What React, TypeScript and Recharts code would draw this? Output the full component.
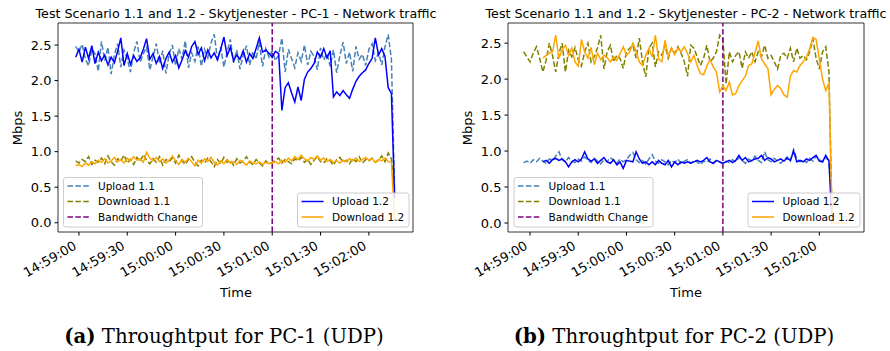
import React from 'react';
import { LineChart, Line, XAxis, YAxis, ReferenceLine, ReferenceArea } from 'recharts';

const FONT = '"DejaVu Sans", sans-serif';
const SERIF = '"DejaVu Serif", serif';

// seconds after 14:59:00
const timesPC1 = [
  -2, 0, 2, 4, 6, 8, 10, 12, 14, 16,
  18, 20, 22, 24, 26, 28, 30, 32, 34, 36,
  38, 40, 42, 44, 46, 48, 50, 52, 54, 56,
  58, 60, 62, 64, 66, 68, 70, 72, 74, 76,
  78, 80, 82, 84, 86, 88, 90, 92, 94, 96,
  98, 100, 102, 104, 106, 108, 110, 112, 114, 116,
  118, 120, 122, 124, 126, 128, 130, 132, 134, 136,
  138, 140, 142, 144, 146, 148, 150, 152, 154, 156,
  158, 160, 162, 164, 166, 168, 170, 172, 174, 176,
  178, 180, 182, 184, 186, 188, 190, 192, 194, 196,
];

const upload11PC1 = [
  2.48, 2.40, 2.51, 2.30, 2.21, 2.44, 2.38, 2.13, 2.55, 2.28,
  2.47, 2.09, 2.36, 2.52, 2.19, 2.43, 2.31, 2.12, 2.40, 2.55,
  2.26, 2.38, 2.47, 2.15, 2.33, 2.52, 2.24, 2.42, 2.10, 2.37,
  2.50, 2.21, 2.45, 2.30, 2.56, 2.18, 2.39, 2.27, 2.48, 2.20,
  2.44, 2.32, 2.53, 2.65, 2.29, 2.47, 2.19, 2.40, 2.58, 2.25,
  2.43, 2.16, 2.36, 2.49, 2.22, 2.41, 2.30, 2.54, 2.20, 2.45,
  2.33, 2.42, 2.28, 2.36, 2.60, 2.12, 2.44, 2.31, 2.18, 2.39,
  2.27, 2.50, 2.22, 2.41, 2.34, 2.15, 2.46, 2.29, 2.38, 2.20,
  2.43, 2.11, 2.35, 2.54, 2.24, 2.40, 2.13, 2.48, 2.30, 2.37,
  2.21, 2.44, 2.52, 2.28, 2.39, 2.22, 2.47, 2.65, 2.30, 0.40,
];

const download11PC1 = [
  0.87, 0.84, 0.89, 0.86, 0.93, 0.82, 0.88, 0.85, 0.91, 0.83,
  0.94, 0.86, 0.81, 0.90, 0.87, 0.95, 0.84, 0.89, 0.82, 0.92,
  0.86, 0.96, 0.88, 0.83, 0.90, 0.85, 0.93, 0.81, 0.89, 0.86,
  0.91, 0.84, 0.95, 0.87, 0.82, 0.89, 0.93, 0.85, 0.80, 0.88,
  0.84, 0.91, 0.86, 0.79, 0.89, 0.83, 0.92, 0.85, 0.88, 0.81,
  0.90, 0.84, 0.87, 0.93, 0.85, 0.82, 0.89, 0.84, 0.80, 0.87,
  0.83, 0.85, 0.88, 0.91, 0.84, 0.89, 0.86, 0.83, 0.90, 0.87,
  0.92, 0.85, 0.89, 0.82, 0.88, 0.93, 0.86, 0.84, 0.90, 0.87,
  0.81, 0.89, 0.92, 0.85, 0.88, 0.83, 0.90, 0.86, 0.93, 0.84,
  0.89, 0.87, 0.91, 0.85, 0.88, 0.94, 0.86, 0.98, 0.90, 0.35,
];

const upload12PC1 = [
  2.33, 2.44, 2.26, 2.47, 2.31, 2.49, 2.24, 2.40, 2.28, 2.36,
  2.22, 2.33, 2.25, 2.41, 2.60, 2.21, 2.38, 2.23, 2.35, 2.27,
  2.32, 2.44, 2.59, 2.30, 2.38, 2.24, 2.34, 2.17, 2.31, 2.40,
  2.26, 2.35, 2.18, 2.29, 2.42, 2.33, 2.48, 2.55, 2.37, 2.46,
  2.28, 2.43, 2.32, 2.39, 2.29, 2.44, 2.61, 2.35, 2.47, 2.28,
  2.36, 2.30, 2.42, 2.26, 2.38, 2.31, 2.45, 2.60, 2.40, 2.43,
  2.38, 2.33, 2.41, 2.38, 1.58, 1.90, 1.97, 1.83, 1.70, 1.91,
  1.72, 2.02, 2.12, 2.17, 2.24, 2.40, 2.33, 2.45, 2.32, 2.42,
  1.77, 1.84, 1.79, 1.86, 1.80, 1.75, 1.88, 1.99, 2.06, 2.11,
  2.15, 2.24, 2.31, 2.60, 2.36, 2.45, 2.34, 1.90, 1.82, 0.35,
];

const download12PC1 = [
  0.80, 0.82, 0.79, 0.84, 0.81, 0.86, 0.83, 0.88, 0.85, 0.90,
  0.84, 0.87, 0.92, 0.86, 0.89, 0.84, 0.91, 0.87, 0.93, 0.88,
  0.90, 0.85, 0.99, 0.91, 0.87, 0.92, 0.86, 0.90, 0.84, 0.88,
  0.94, 0.87, 0.82, 0.89, 0.85, 0.91, 0.86, 0.80, 0.88, 0.84,
  0.90, 0.86, 0.92, 0.85, 0.81, 0.87, 0.83, 0.89, 0.84, 0.86,
  0.82, 0.88, 0.85, 0.81, 0.87, 0.84, 0.83, 0.86, 0.82, 0.85,
  0.83, 0.84, 0.86, 0.83, 0.88, 0.85, 0.91, 0.87, 0.93, 0.89,
  0.95, 0.90, 0.87, 0.92, 0.89, 0.94, 0.88, 0.91, 0.86, 0.89,
  0.85, 0.87, 0.84, 0.88, 0.86, 0.90, 0.87, 0.91, 0.86, 0.89,
  0.92, 0.88, 0.90, 0.85, 0.89, 0.87, 0.91, 0.86, 0.85, 0.02,
];

const timesPC2 = [
  -4, -2, 0, 2, 4, 6, 8, 10, 12, 14,
  16, 18, 20, 22, 24, 26, 28, 30, 32, 34,
  36, 38, 40, 42, 44, 46, 48, 50, 52, 54,
  56, 58, 60, 62, 64, 66, 68, 70, 72, 74,
  76, 78, 80, 82, 84, 86, 88, 90, 92, 94,
  96, 98, 100, 102, 104, 106, 108, 110, 112, 114,
  116, 118, 120, 122, 124, 126, 128, 130, 132, 134,
  136, 138, 140, 142, 144, 146, 148, 150, 152, 154,
  156, 158, 160, 162, 164, 166, 168, 170, 172, 174,
  176, 178, 180, 182, 184, 186, 188, 190, 192, 194,
  196, 198,
];

const upload11PC2 = [
  0.84, 0.86, 0.83, 0.88, 0.85, 0.90, 0.86, 0.83, 0.89, 0.87,
  0.93, 0.99, 0.88, 0.85, 0.91, 0.86, 0.84, 0.89, 0.86, 0.92,
  0.87, 0.84, 0.90, 0.86, 0.82, 0.88, 0.85, 0.91, 0.87, 0.83,
  0.89, 0.85, 0.88, 0.94, 0.98, 0.88, 0.84, 0.87, 0.82, 0.89,
  0.95, 0.86, 0.83, 0.88, 0.85, 0.81, 0.87, 0.84, 0.89, 0.82,
  0.86, 0.88, 0.83, 0.87, 0.85, 0.81, 0.86, 0.84, 0.89, 0.83,
  0.87, 0.85, 0.82, 0.86, 0.84, 0.88, 0.85, 0.91, 0.87, 0.83,
  0.89, 0.86, 0.93, 0.87, 0.84, 0.99, 0.88, 0.85, 0.90, 0.86,
  0.83, 0.88, 0.92, 0.86, 1.02, 0.89, 0.85, 0.88, 0.84, 0.90,
  0.86, 0.93, 0.88, 0.85, 0.90, 0.88, 0.00, null, null, null,
  null, null,
];

const download11PC2 = [
  2.38, 2.31, 2.24, 2.36, 2.45, 2.29, 2.10, 2.26, 2.50, 2.33,
  2.10, 2.36, 2.50, 2.10, 2.40, 2.31, 2.44, 2.27, 2.18, 2.38,
  2.50, 2.24, 2.31, 2.44, 2.61, 2.14, 2.38, 2.47, 2.24, 2.33,
  2.29, 2.15, 2.38, 2.43, 2.47, 2.29, 2.57, 2.24, 2.03, 2.43,
  2.50, 2.17, 2.38, 2.33, 2.47, 2.29, 2.43, 2.36, 2.45, 2.36,
  2.24, 2.04, 2.47, 2.43, 2.31, 2.19, 2.29, 2.47, 2.24, 2.29,
  2.38, 2.61, 2.56, 1.93, 2.38, 2.24, 2.33, 2.38, 2.15, 2.38,
  2.29, 2.38, 2.24, 2.38, 2.31, 2.47, 2.29, 2.33, 2.24, 2.14,
  2.33, 2.36, 2.29, 2.43, 2.24, 2.43, 2.29, 2.33, 2.27, 2.38,
  2.56, 2.29, 2.14, 2.38, 2.45, 2.10, 0.00, null, null, null,
  null, null,
];

const upload12PC2 = [
  null, null, null, null, null, null, 0.85, 0.87, 0.83, 0.88,
  0.90, 0.87, 0.89, 0.85, 0.78, 0.85, 0.88, 0.85, 0.89, 0.99,
  0.89, 0.86, 0.89, 0.83, 0.87, 0.91, 0.85, 0.83, 0.88, 0.81,
  0.85, 0.76, 0.87, 0.86, 0.85, 0.99, 0.89, 0.83, 0.85, 0.81,
  0.85, 0.81, 0.87, 0.83, 0.81, 0.87, 0.78, 0.85, 0.81, 0.85,
  0.83, 0.85, 0.83, 0.85, 0.87, 0.85, 0.87, 0.91, 0.85, 0.83,
  0.87, 0.85, 0.83, 0.85, 0.87, 0.84, 0.87, 0.94, 0.87, 0.91,
  0.85, 0.87, 0.89, 0.90, 0.94, 0.87, 0.91, 0.89, 0.85, 0.87,
  0.89, 0.86, 0.90, 0.87, 1.00, 0.85, 0.87, 0.85, 0.89, 0.87,
  0.91, 0.94, 0.86, 0.85, 0.94, 0.86, 0.00, null, null, null,
  null, null,
];

const download12PC2 = [
  null, null, null, null, null, null, 2.29, 2.33, 2.36, 2.38,
  2.61, 2.29, 2.41, 2.47, 2.33, 2.43, 2.24, 2.18, 2.55, 2.38,
  2.29, 2.44, 2.20, 2.36, 2.27, 2.33, 2.30, 2.24, 2.31, 2.26,
  2.35, 2.45, 2.33, 2.38, 2.50, 2.38, 2.24, 2.19, 2.33, 2.43,
  2.31, 2.61, 2.28, 2.24, 2.54, 2.32, 2.43, 2.34, 2.43, 2.38,
  2.45, 2.36, 2.24, 2.33, 2.19, 2.08, 2.06, 2.18, 2.27, 2.17,
  2.10, 1.82, 1.91, 1.84, 1.96, 1.78, 1.80, 1.91, 1.98, 2.04,
  2.19, 2.21, 2.37, 2.53, 2.28, 2.21, 2.15, 1.78, 1.86, 1.91,
  1.87, 1.78, 1.75, 2.04, 2.12, 2.10, 2.19, 2.24, 2.31, 2.42,
  2.58, 2.55, 2.28, 2.00, 1.84, 1.95, 0.00, 0.00, 0.00, 0.00,
  0.00, 0.00,
];

const timeTicks = [0, 30, 60, 90, 120, 150, 180];
const timeTickLabels = ['14:59:00', '14:59:30', '15:00:00', '15:00:30', '15:01:00', '15:01:30', '15:02:00'];
const mbpsTicks = [0, 0.5, 1, 1.5, 2, 2.5];
const bandwidthChangeAt = 120;

const C_UP11 = '#4682b4';
const C_DOWN11 = '#808000';
const C_BW = '#800080';
const C_UP12 = '#0000ff';
const C_DOWN12 = '#ffa500';
const DASH = '5.5 2.4';

function TimeTick(props: any) {
  const { x, y, payload } = props;
  const label = timeTickLabels[timeTicks.indexOf(payload.value)] ?? '';
  return (
    <g transform={`translate(${x},${y + 12}) rotate(-30)`}>
      <text textAnchor="end" dy={-3} fontSize={13} fontFamily={FONT} fill="#000">
        {label}
      </text>
    </g>
  );
}

type ChartProps = {
  times: number[];
  up11: (number | null)[];
  down11: (number | null)[];
  up12: (number | null)[];
  down12: (number | null)[];
  xDomain: [number, number];
  yDomain: [number, number];
  yAxisWidth: number;
  rightMargin: number;
};

function TrafficChart({ times, up11, down11, up12, down12, xDomain, yDomain, yAxisWidth, rightMargin }: ChartProps) {
  const data = times.map((t, i) => ({
    t,
    up11: up11[i],
    down11: down11[i],
    up12: up12[i],
    down12: down12[i],
  }));

  return (
    <LineChart width={445} height={300} data={data} margin={{ top: 23, right: rightMargin, bottom: 8, left: 0 }}>
      <XAxis
        type="number"
        dataKey="t"
        domain={xDomain}
        ticks={timeTicks}
        interval={0}
        allowDataOverflow
        axisLine={false}
        tickLine={{ stroke: '#000' }}
        tickSize={3.5}
        tickMargin={3.5}
        tick={<TimeTick />}
        height={60}
      />
      <YAxis
        type="number"
        domain={yDomain}
        ticks={mbpsTicks}
        interval={0}
        allowDataOverflow
        width={yAxisWidth}
        axisLine={false}
        tickLine={{ stroke: '#000' }}
        tickSize={3.5}
        tickMargin={3}
        tickFormatter={(v: number) => v.toFixed(1)}
        tick={{ fontSize: 13, fill: '#000', fontFamily: FONT }}
      />
      <Line dataKey="up11" stroke={C_UP11} strokeWidth={1.5} strokeDasharray={DASH} dot={false} isAnimationActive={false} />
      <Line dataKey="down11" stroke={C_DOWN11} strokeWidth={1.5} strokeDasharray={DASH} dot={false} isAnimationActive={false} />
      <ReferenceLine x={bandwidthChangeAt} stroke={C_BW} strokeWidth={1.5} strokeDasharray={DASH} />
      <Line dataKey="up12" stroke={C_UP12} strokeWidth={1.5} dot={false} isAnimationActive={false} />
      <Line dataKey="down12" stroke={C_DOWN12} strokeWidth={1.5} dot={false} isAnimationActive={false} />
      <ReferenceArea x1={xDomain[0]} x2={xDomain[1]} y1={yDomain[0]} y2={yDomain[1]} fill="none" stroke="#000" strokeWidth={0.8} />
    </LineChart>
  );
}

type LegendItem = { label: string; color: string; dashed: boolean };

const legend11: LegendItem[] = [
  { label: 'Upload 1.1', color: C_UP11, dashed: true },
  { label: 'Download 1.1', color: C_DOWN11, dashed: true },
  { label: 'Bandwidth Change', color: C_BW, dashed: true },
];
const legend12: LegendItem[] = [
  { label: 'Upload 1.2', color: C_UP12, dashed: false },
  { label: 'Download 1.2', color: C_DOWN12, dashed: false },
];

function LegendBox({ x, y, w, items }: { x: number; y: number; w: number; items: LegendItem[] }) {
  const h = 8.5 + 15.5 * (items.length - 1) + 10;
  return (
    <g>
      <rect x={x} y={y} width={w} height={h} rx={2.5} fill="rgba(255,255,255,0.8)" stroke="#cccccc" strokeWidth={1} />
      {items.map((it, i) => {
        const cy = y + 8.5 + 15.5 * i;
        return (
          <g key={it.label}>
            <line x1={x + 4} x2={x + 26} y1={cy} y2={cy} stroke={it.color} strokeWidth={1.5} strokeDasharray={it.dashed ? DASH : undefined} />
            <text x={x + 34.5} y={cy + 3.8} fontSize={10.5} fontFamily={FONT} fill="#000">
              {it.label}
            </text>
          </g>
        );
      })}
    </g>
  );
}

export default function App() {
  return (
    <div style={{ position: 'absolute', left: 0, top: 0, width: 890, height: 351, background: '#fff', overflow: 'hidden' }}>
      <div style={{ position: 'absolute', left: 0, top: 0 }}>
        <TrafficChart
          times={timesPC1}
          up11={upload11PC1}
          down11={download11PC1}
          up12={upload12PC1}
          down12={download12PC1}
          xDomain={[-13, 207.4]}
          yDomain={[-0.13, 2.81]}
          yAxisWidth={58}
          rightMargin={32}
        />
      </div>
      <div style={{ position: 'absolute', left: 445, top: 0 }}>
        <TrafficChart
          times={timesPC2}
          up11={upload11PC2}
          down11={download11PC2}
          up12={upload12PC2}
          down12={download12PC2}
          xDomain={[-13.7, 207.8]}
          yDomain={[-0.125, 2.78]}
          yAxisWidth={63}
          rightMargin={26}
        />
      </div>
      <svg width={890} height={351} style={{ position: 'absolute', left: 0, top: 0, pointerEvents: 'none' }}>
        <text x={236} y={18} textAnchor="middle" fontSize={12.7} fontFamily={FONT} fill="#000">
          Test Scenario 1.1 and 1.2 - Skytjenester - PC-1 - Network traffic
        </text>
        <text x={686} y={18} textAnchor="middle" fontSize={12.7} fontFamily={FONT} fill="#000">
          Test Scenario 1.1 and 1.2 - Skytjenester - PC-2 - Network traffic
        </text>
        <text transform="translate(21.5,128) rotate(-90)" textAnchor="middle" fontSize={13} fontFamily={FONT} fill="#000">
          Mbps
        </text>
        <text transform="translate(471.5,128) rotate(-90)" textAnchor="middle" fontSize={13} fontFamily={FONT} fill="#000">
          Mbps
        </text>
        <text x={236} y={297} textAnchor="middle" fontSize={13} fontFamily={FONT} fill="#000">
          Time
        </text>
        <text x={686} y={297} textAnchor="middle" fontSize={13} fontFamily={FONT} fill="#000">
          Time
        </text>
        <LegendBox x={63.5} y={177.5} w={139} items={legend11} />
        <LegendBox x={297.5} y={193} w={111.5} items={legend12} />
        <LegendBox x={514} y={177.5} w={139} items={legend11} />
        <LegendBox x={748} y={193} w={112} items={legend12} />
        <text x={224} y={343} textAnchor="middle" fontSize={19.7} fontFamily={SERIF} fill="#000">
          <tspan fontWeight="bold">(a)</tspan> Throughtput for PC-1 (UDP)
        </text>
        <text x={674} y={343} textAnchor="middle" fontSize={19.7} fontFamily={SERIF} fill="#000">
          <tspan fontWeight="bold">(b)</tspan> Throughtput for PC-2 (UDP)
        </text>
      </svg>
    </div>
  );
}
